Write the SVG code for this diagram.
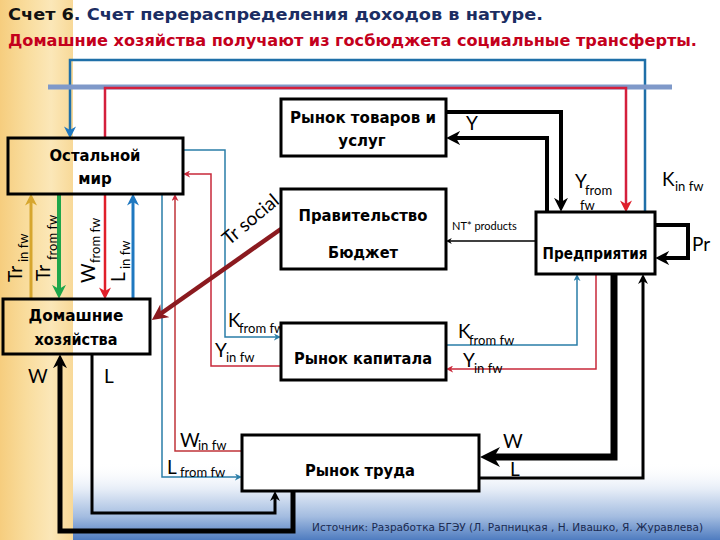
<svg xmlns="http://www.w3.org/2000/svg" width="720" height="540" viewBox="0 0 720 540">
<defs>
<linearGradient id="band" x1="0" y1="0" x2="1" y2="0">
<stop offset="0" stop-color="#f6cd7e"/>
<stop offset="0.35" stop-color="#f9dc9c"/>
<stop offset="0.7" stop-color="#fbe7b8"/>
<stop offset="1" stop-color="#f8d998"/>
</linearGradient>
<linearGradient id="bottom" x1="0" y1="0" x2="0" y2="1">
<stop offset="0" stop-color="#ffffff" stop-opacity="0"/>
<stop offset="0.35" stop-color="#e6edf7"/>
<stop offset="0.7" stop-color="#a3bce0"/>
<stop offset="1" stop-color="#4f7cc0"/>
</linearGradient>
<marker id="mK14" viewBox="0 0 10 10" refX="3" refY="5" markerWidth="14" markerHeight="14" markerUnits="userSpaceOnUse" orient="auto"><path d="M0,0 L10,5 L0,10 L3,5z" fill="#000"/></marker>
<marker id="mK22" viewBox="0 0 10 10" refX="3" refY="5" markerWidth="22" markerHeight="20" markerUnits="userSpaceOnUse" orient="auto"><path d="M0,0 L10,5 L0,10 L3,5z" fill="#000"/></marker>
<marker id="mK10" viewBox="0 0 10 10" refX="3" refY="5" markerWidth="10" markerHeight="10" markerUnits="userSpaceOnUse" orient="auto"><path d="M0,0 L10,5 L0,10 L3,5z" fill="#000"/></marker>
<marker id="mK6" viewBox="0 0 10 10" refX="3" refY="5" markerWidth="6" markerHeight="6" markerUnits="userSpaceOnUse" orient="auto"><path d="M0,0 L10,5 L0,10 L3,5z" fill="#000"/></marker>
<marker id="mBlue" viewBox="0 0 10 10" refX="3" refY="5" markerWidth="12" markerHeight="12" markerUnits="userSpaceOnUse" orient="auto"><path d="M0,0 L10,5 L0,10 L3,5z" fill="#1f78c0"/></marker>
<marker id="mRed" viewBox="0 0 10 10" refX="3" refY="5" markerWidth="12" markerHeight="12" markerUnits="userSpaceOnUse" orient="auto"><path d="M0,0 L10,5 L0,10 L3,5z" fill="#e01f2a"/></marker>
<marker id="mGreen" viewBox="0 0 10 10" refX="3" refY="5" markerWidth="14" markerHeight="14" markerUnits="userSpaceOnUse" orient="auto"><path d="M0,0 L10,5 L0,10 L3,5z" fill="#1fa64a"/></marker>
<marker id="mGold" viewBox="0 0 10 10" refX="3" refY="5" markerWidth="12" markerHeight="12" markerUnits="userSpaceOnUse" orient="auto"><path d="M0,0 L10,5 L0,10 L3,5z" fill="#d6a62e"/></marker>
<marker id="mDR" viewBox="0 0 10 10" refX="3" refY="5" markerWidth="16" markerHeight="16" markerUnits="userSpaceOnUse" orient="auto"><path d="M0,0 L10,5 L0,10 L3,5z" fill="#8b1a1f"/></marker>
<marker id="mTeal" viewBox="0 0 10 10" refX="3" refY="5" markerWidth="7" markerHeight="7" markerUnits="userSpaceOnUse" orient="auto"><path d="M0,0 L10,5 L0,10 L3,5z" fill="#2a7ea8"/></marker>
<marker id="mRed7" viewBox="0 0 10 10" refX="3" refY="5" markerWidth="7" markerHeight="7" markerUnits="userSpaceOnUse" orient="auto"><path d="M0,0 L10,5 L0,10 L3,5z" fill="#c8283a"/></marker>
</defs>
<style>
.box{fill:#fff;stroke:#000;stroke-width:3}
.boxt{fill:none;stroke:#000;stroke-width:3}
.nt{font-family:"DejaVu Sans","Liberation Sans",sans-serif;font-weight:bold;font-size:15px;fill:#000;text-anchor:middle}
.title{font-family:"DejaVu Sans","Liberation Sans",sans-serif;font-weight:bold;font-size:16px}
.big{font-family:Lato,"Liberation Sans",sans-serif;font-size:19px;fill:#000}
.sub{font-family:Lato,"Liberation Sans",sans-serif;font-size:13px;fill:#000}
.c{fill:none}
</style>
<rect x="0" y="0" width="720" height="540" fill="#fff"/>
<rect x="73" y="462" width="647" height="78" fill="url(#bottom)"/>
<rect x="0" y="0" width="73" height="540" fill="url(#band)"/>
<text x="8" y="20" class="title" textLength="535" lengthAdjust="spacingAndGlyphs"><tspan fill="#111">Счет 6</tspan><tspan fill="#1b2d62">. Счет перераспределения доходов в натуре.</tspan></text>
<text x="8" y="46" class="title" fill="#c4001c" textLength="689" lengthAdjust="spacingAndGlyphs">Домашние хозяйства получают из госбюджета социальные трансферты.</text>
<g id="connectors" class="c">
<path d="M645,212 V60 H70 V130" stroke="#1f6fa8" stroke-width="2.5" marker-end="url(#mBlue)"/>
<path d="M48,87 H672" stroke="#7f99c9" stroke-width="5"/>
<path d="M105,138 V88 H626 V204" stroke="#d41f3c" stroke-width="2.5" marker-end="url(#mRed)"/>
<path d="M31,298 V202" stroke="#d6a62e" stroke-width="3" marker-end="url(#mGold)"/>
<path d="M59,195 V289" stroke="#1fa64a" stroke-width="4" marker-end="url(#mGreen)"/>
<path d="M105,195 V291" stroke="#e01f2a" stroke-width="2.5" marker-end="url(#mRed)"/>
<path d="M133,298 V202" stroke="#1f78c0" stroke-width="3" marker-end="url(#mBlue)"/>
<path d="M242,451 H175 V199" stroke="#c0353a" stroke-width="1.5" marker-end="url(#mRed7)"/>
<path d="M162,194 V477 H237" stroke="#2a7ea8" stroke-width="1.5" marker-end="url(#mTeal)"/>
<path d="M183,150 H225 V337 H276" stroke="#2a7ea8" stroke-width="1.5" marker-end="url(#mTeal)"/>
<path d="M446,345 H577 V279" stroke="#2a7ea8" stroke-width="1.5" marker-end="url(#mTeal)"/>
<path d="M281,366 H211 V174 H188" stroke="#c8283a" stroke-width="1.5" marker-end="url(#mRed7)"/>
<path d="M596,274 V369 H451" stroke="#c8283a" stroke-width="1.5" marker-end="url(#mRed7)"/>
<path d="M281,229 L161,313.5" stroke="#8b1a1f" stroke-width="4.5" marker-end="url(#mDR)"/>
<path d="M446,112 H561 V202" stroke="#000" stroke-width="4" marker-end="url(#mK14)"/>
<path d="M547,212 V138 H456" stroke="#000" stroke-width="4" marker-end="url(#mK14)"/>
<path d="M536,241 H450" stroke="#000" stroke-width="1.5" marker-end="url(#mK6)"/>
<path d="M655,225 H688 V258 H665" stroke="#000" stroke-width="4" marker-end="url(#mK14)"/>
<path d="M614,274 V457 H494" stroke="#000" stroke-width="7" marker-end="url(#mK22)"/>
<path d="M479,478 H643 V281" stroke="#000" stroke-width="3" marker-end="url(#mK10)"/>
<path d="M293,491 V531 H60 V364" stroke="#000" stroke-width="5" marker-end="url(#mK14)"/>
<path d="M92,354 V513 H275 V498" stroke="#000" stroke-width="3" marker-end="url(#mK10)"/>
</g>
<g id="labels">
<g transform="translate(22,282) rotate(-90)"><text class="big" x="0" y="0">Tr</text><text class="sub" x="20" y="6">in fw</text></g>
<g transform="translate(50,281) rotate(-90)"><text class="big" x="0" y="0">Tr</text><text class="sub" x="21" y="7">from fw</text></g>
<g transform="translate(95,283) rotate(-90)"><text class="big" x="0" y="0">W</text><text class="sub" x="20" y="5">from fw</text></g>
<g transform="translate(125,282) rotate(-90)"><text class="big" x="0" y="0">L</text><text class="sub" x="13" y="5">in fw</text></g>
<text class="big" x="228" y="327">K</text><text class="sub" x="239" y="333">from fw</text>
<text class="big" x="215" y="357">Y</text><text class="sub" x="226" y="362">in fw</text>
<text class="big" x="180" y="447">W</text><text class="sub" x="198" y="450">in fw</text>
<text class="big" x="167" y="474">L</text><text class="sub" x="180" y="477">from fw</text>
<text class="big" x="458" y="338">K</text><text class="sub" x="469" y="345">from fw</text>
<text class="big" x="463" y="367">Y</text><text class="sub" x="474" y="373">in fw</text>
<text class="big" x="466" y="130">Y</text>
<text class="big" x="575" y="188">Y</text><text class="sub" x="585" y="195">from</text><text class="sub" x="580" y="210">fw</text>
<text class="big" x="662" y="186">K</text><text class="sub" x="675" y="191">in fw</text>
<text x="452" y="230" font-family="Lato,'Liberation Sans',sans-serif" font-size="11" fill="#000">NT* products</text>
<text class="big" x="692" y="251">Pr</text>
<text class="big" x="503" y="448">W</text>
<text class="big" x="510" y="476">L</text>
<text class="big" x="28" y="383">W</text>
<text class="big" x="104" y="383">L</text>
<text class="big" x="229" y="246" font-size="15" transform="rotate(-40 229 246)">Tr social</text>
</g>
<g id="n-world"><rect class="boxt" x="8" y="138" width="175" height="56"/><text class="nt" x="95" y="161" textLength="91" lengthAdjust="spacingAndGlyphs">Остальной</text><text class="nt" x="95" y="184">мир</text></g>
<g id="n-households"><rect class="boxt" x="3" y="299" width="147" height="55"/><text class="nt" x="76" y="321" textLength="95" lengthAdjust="spacingAndGlyphs">Домашние</text><text class="nt" x="76" y="345" textLength="83" lengthAdjust="spacingAndGlyphs">хозяйства</text></g>
<g id="n-goods"><rect class="box" x="281" y="99" width="165" height="57"/><text class="nt" x="363" y="123" textLength="146" lengthAdjust="spacingAndGlyphs">Рынок товаров и</text><text class="nt" x="362" y="146">услуг</text></g>
<g id="n-gov"><rect class="box" x="281" y="189" width="165" height="80"/><text class="nt" x="363" y="221" textLength="129" lengthAdjust="spacingAndGlyphs">Правительство</text><text class="nt" x="363" y="258" textLength="70" lengthAdjust="spacingAndGlyphs">Бюджет</text></g>
<g id="n-firms"><rect class="box" x="536" y="212" width="119" height="62"/><text class="nt" x="595" y="259" font-size="14" textLength="105" lengthAdjust="spacingAndGlyphs">Предприятия</text></g>
<g id="n-capital"><rect class="box" x="281" y="323" width="165" height="57"/><text class="nt" x="363" y="364" textLength="138" lengthAdjust="spacingAndGlyphs">Рынок капитала</text></g>
<g id="n-labour"><rect class="box" x="242" y="435" width="237" height="56"/><text class="nt" x="360" y="476" textLength="110" lengthAdjust="spacingAndGlyphs">Рынок труда</text></g>
<text x="312" y="531" font-family="'DejaVu Sans','Liberation Sans',sans-serif" font-size="11" fill="#1a2a50" textLength="391" lengthAdjust="spacingAndGlyphs">Источник: Разработка БГЭУ (Л. Рапницкая , Н. Ивашко, Я. Журавлева)</text>
</svg>
